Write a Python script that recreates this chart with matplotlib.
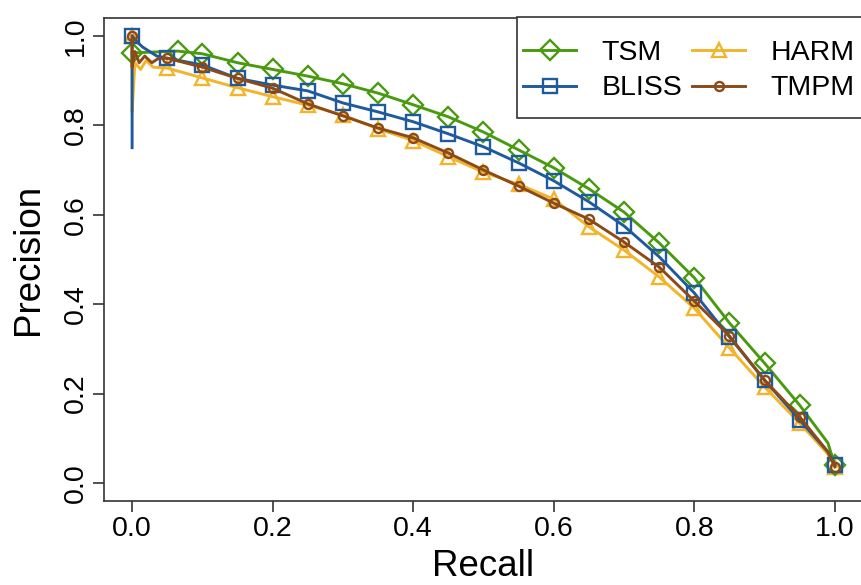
import matplotlib
matplotlib.use("Agg")
import matplotlib.pyplot as plt
from matplotlib.patches import Rectangle

plt.rcParams['font.family'] = ['Liberation Sans', 'DejaVu Sans']

# ---- data ----
tsm_recall = [0.0, 0.065, 0.10, 0.15, 0.20, 0.25, 0.30, 0.35, 0.40, 0.45, 0.50,
              0.55, 0.60, 0.65, 0.70, 0.75, 0.80, 0.85, 0.90, 0.95, 0.99, 1.0]
tsm_prec = [0.962, 0.966, 0.960, 0.940, 0.925, 0.910, 0.893, 0.872, 0.846, 0.819, 0.785,
            0.745, 0.705, 0.658, 0.606, 0.537, 0.459, 0.358, 0.268, 0.174, 0.090, 0.040]
tsm_marks = [0, 1, 2, 3, 4, 5, 6, 7, 8, 9, 10, 11, 12, 13, 14, 15, 16, 17, 18, 19, 21]

bliss_recall = [0.0, 0.0, 0.008, 0.015, 0.025, 0.035, 0.05, 0.10, 0.15, 0.20, 0.25, 0.30,
                0.35, 0.40, 0.45, 0.50, 0.55, 0.60, 0.65, 0.70, 0.75, 0.80, 0.85,
                0.90, 0.95, 0.99, 1.0]
bliss_prec = [0.75, 1.0, 0.985, 0.975, 0.965, 0.955, 0.950, 0.935, 0.905, 0.890, 0.877, 0.850,
              0.830, 0.808, 0.781, 0.752, 0.716, 0.676, 0.629, 0.575, 0.506, 0.425, 0.327,
              0.230, 0.141, 0.070, 0.040]
bliss_marks = [1, 6, 7, 8, 9, 10, 11, 12, 13, 14, 15, 16, 17, 18, 19, 20, 21, 22, 23, 24, 26]

harm_recall = [0.0, 0.0, 0.004, 0.012, 0.02, 0.03, 0.05, 0.10, 0.15, 0.20, 0.25, 0.30,
               0.35, 0.40, 0.45, 0.50, 0.55, 0.60, 0.65, 0.70, 0.75, 0.80, 0.85,
               0.90, 0.95, 0.99, 1.0]
harm_prec = [1.0, 0.83, 0.940, 0.925, 0.945, 0.930, 0.928, 0.906, 0.884, 0.864, 0.845, 0.823,
             0.792, 0.766, 0.730, 0.695, 0.668, 0.635, 0.573, 0.521, 0.461, 0.391, 0.302,
             0.215, 0.134, 0.065, 0.035]
harm_marks = [0, 6, 7, 8, 9, 10, 11, 12, 13, 14, 15, 16, 17, 18, 19, 20, 21, 22, 23, 24, 26]

tmpm_recall = [0.0, 0.0, 0.004, 0.01, 0.018, 0.028, 0.038, 0.05, 0.10, 0.15, 0.20, 0.25,
               0.30, 0.35, 0.40, 0.45, 0.50, 0.55, 0.60, 0.65, 0.70, 0.75, 0.80, 0.85,
               0.90, 0.95, 0.99, 1.0]
tmpm_prec = [1.0, 0.93, 0.965, 0.940, 0.955, 0.940, 0.950, 0.950, 0.930, 0.905, 0.883, 0.848,
             0.821, 0.794, 0.772, 0.738, 0.700, 0.664, 0.626, 0.590, 0.539, 0.483, 0.407, 0.329,
             0.230, 0.148, 0.070, 0.037]
tmpm_marks = [0, 7, 8, 9, 10, 11, 12, 13, 14, 15, 16, 17, 18, 19, 20, 21, 22, 23, 24, 25, 27]

xticks = [0.0, 0.2, 0.4, 0.6, 0.8, 1.0]
yticks = [0.0, 0.2, 0.4, 0.6, 0.8, 1.0]

c_tsm = '#4a9a10'
c_bliss = '#1f5a9c'
c_harm = '#f2b42a'
c_tmpm = '#8b4a18'

W, H = 862, 585
fig = plt.figure(figsize=(W / 100, H / 100), dpi=100)
ax = fig.add_axes([104 / W, 84 / H, 759 / W, 483 / H])

lw = 2.1
mew = 1.7
ax.plot(tsm_recall, tsm_prec, color=c_tsm, lw=lw, marker='D', ms=10.5, mfc='none',
        mew=mew, markevery=tsm_marks, label='TSM', zorder=3)
ax.plot(bliss_recall, bliss_prec, color=c_bliss, lw=lw, marker='s', ms=9.5, mfc='none',
        mew=mew, markevery=bliss_marks, label='BLISS', zorder=3)
ax.plot(harm_recall, harm_prec, color=c_harm, lw=lw, marker='^', ms=10.5, mfc='none',
        mew=mew, markevery=harm_marks, label='HARM', zorder=2)
ax.plot(tmpm_recall, tmpm_prec, color=c_tmpm, lw=lw, marker='o', ms=6.5, mfc='none',
        mew=mew, markevery=tmpm_marks, label='TMPM', zorder=4)

ax.set_xlim(-0.04, 1.04)
ax.set_ylim(-0.04, 1.04)
ax.set_xticks(xticks)
ax.set_xticklabels([f'{v:.1f}' for v in xticks])
ax.set_yticks(yticks)
ax.set_yticklabels([f'{v:.1f}' for v in yticks], rotation=90, va='center')

ax.tick_params(axis='both', direction='out', length=8, width=1.2, labelsize=20.5,
               color='#333333', pad=3)
for s in ax.spines.values():
    s.set_linewidth(1.2)
    s.set_color('#333333')

ax.set_xlabel('Recall', fontsize=26.5, labelpad=5)
ax.set_ylabel('Precision', fontsize=26.5, labelpad=12)

# legend box (frame drawn separately, like R's legend at the top-right corner)
fig.patches.append(Rectangle((517 / W, 1 - 118 / H), (866 - 517) / W, 101 / H,
                             transform=fig.transFigure, fill=True, facecolor='white',
                             edgecolor='#333333', lw=1.2, zorder=5))
leg = fig.legend(handles=ax.get_lines(), ncol=2, loc='center',
                 bbox_to_anchor=(689 / W, 1 - 70.5 / H), borderaxespad=0, fontsize=20.5,
                 frameon=False, handlelength=1.85, handletextpad=0.9,
                 columnspacing=0.35, labelspacing=0.35, borderpad=0)
leg.set_zorder(6)

fig.savefig('out.png', dpi=100)
